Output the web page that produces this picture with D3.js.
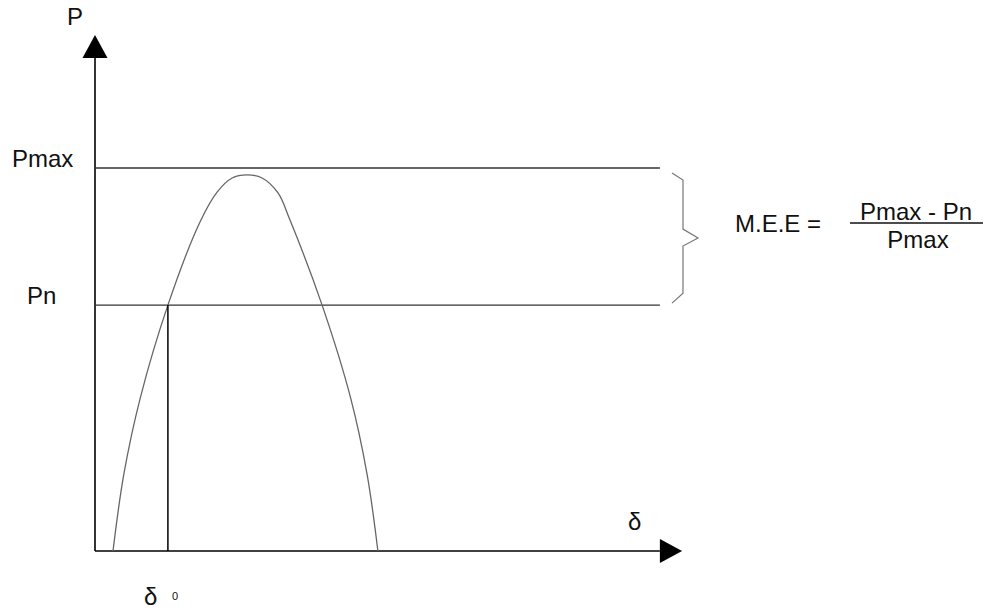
<!DOCTYPE html>
<html>
<head>
<meta charset="utf-8">
<script src="https://cdn.jsdelivr.net/npm/d3@7"></script>
<style>
  body { margin: 0; background: #fff; }
  text { font-family: "Liberation Sans", Arial, sans-serif; fill: #111; }
</style>
</head>
<body>
<svg id="chart"></svg>
<script>
// power-angle curve, delta in arbitrary units, P relative to Pmax
const deltaValues = [6, 9.6, 15.1, 24.3, 35, 40.7, 45.7, 50.7, 55.7, 61, 65, 75.7, 85.2, 90.7, 94.3];
const powerValues = [0, 0.2, 0.4, 0.642, 0.859, 0.937, 0.974, 0.982, 0.974, 0.935, 0.864, 0.642, 0.4, 0.2, 0];
const levelNames = ["Pmax", "Pn"];
const levelValues = [1, 0.642];
const delta0 = 24.3;
const formula = { left: "M.E.E =", num: "Pmax - Pn", den: "Pmax" };

const width = 995, height = 611;
const svg = d3.select("#chart").attr("width", width).attr("height", height);

const x = d3.scaleLinear().domain([0, 200]).range([95, 695]);
const y = d3.scaleLinear().domain([0, 1]).range([551, 168]);

const xEnd = 195.7, yEnd = 1.347, lineEnd = 188.3;

// axes
svg.append("line")
  .attr("x1", x(0)).attr("y1", y(0)).attr("x2", x(lineEnd)).attr("y2", y(0))
  .attr("stroke", "#000").attr("stroke-width", 1.6);
svg.append("line")
  .attr("x1", x(0)).attr("y1", y(0)).attr("x2", x(0)).attr("y2", y(1.29))
  .attr("stroke", "#000").attr("stroke-width", 1.6);

// arrow heads
svg.append("path")
  .attr("d", `M${x(xEnd)},${y(0)} L${x(lineEnd)},${y(0) - 12} L${x(lineEnd)},${y(0) + 12} Z`)
  .attr("fill", "#000");
svg.append("path")
  .attr("d", `M${x(0)},${y(yEnd)} L${x(0) - 12.5},${y(1.287)} L${x(0) + 12.5},${y(1.287)} Z`)
  .attr("fill", "#000");

// Pmax / Pn levels
svg.selectAll(".level")
  .data(levelValues)
  .join("line")
  .attr("class", "level")
  .attr("x1", x(0)).attr("x2", x(lineEnd))
  .attr("y1", d => y(d)).attr("y2", d => y(d))
  .attr("stroke", "#333").attr("stroke-width", 1.3);

svg.selectAll(".levelLabel")
  .data(levelNames)
  .join("text")
  .attr("class", "levelLabel")
  .attr("x", (d, i) => i == 0 ? 12 : 27)
  .attr("y", (d, i) => y(levelValues[i]) - 1)
  .attr("font-size", 24)
  .text(d => d);

// curve
const line = d3.line()
  .x((d, i) => x(deltaValues[i]))
  .y(d => y(d))
  .curve(d3.curveCatmullRom.alpha(0.5));

svg.append("path")
  .datum(powerValues)
  .attr("d", line)
  .attr("fill", "none")
  .attr("stroke", "#666")
  .attr("stroke-width", 1.3);

// delta0 vertical
svg.append("line")
  .attr("x1", x(delta0)).attr("x2", x(delta0))
  .attr("y1", y(levelValues[1])).attr("y2", y(0))
  .attr("stroke", "#000").attr("stroke-width", 1.5);

// brace between Pmax and Pn
const bTop = y(levelValues[0]) + 5, bBot = y(levelValues[1]) - 2;
const bMid = (bTop + bBot) / 2, bx = 683;
svg.append("path")
  .attr("d", `M${bx - 11},${bTop} L${bx},${bTop + 7} L${bx},${bMid - 9} L${bx + 15},${bMid} L${bx},${bMid + 8} L${bx},${bBot - 10} L${bx - 11},${bBot}`)
  .attr("fill", "none").attr("stroke", "#777").attr("stroke-width", 1.2);

// axis labels
svg.append("text").attr("x", 67).attr("y", 25).attr("font-size", 24).text("P");
svg.append("text").attr("x", 628).attr("y", 530).attr("font-size", 24).text("δ");
svg.append("text").attr("x", 144).attr("y", 605).attr("font-size", 24).text("δ");
svg.append("text").attr("x", 172).attr("y", 600).attr("font-size", 11).text("0");

// formula
svg.append("text").attr("x", 735).attr("y", 232).attr("font-size", 24).text(formula.left);
svg.append("text").attr("x", 916).attr("y", 220).attr("font-size", 24)
  .attr("text-anchor", "middle").text(formula.num);
svg.append("line").attr("x1", 850).attr("x2", 983).attr("y1", 223).attr("y2", 223)
  .attr("stroke", "#111").attr("stroke-width", 1.3);
svg.append("text").attr("x", 918).attr("y", 248).attr("font-size", 24)
  .attr("text-anchor", "middle").text(formula.den);
</script>
</body>
</html>
